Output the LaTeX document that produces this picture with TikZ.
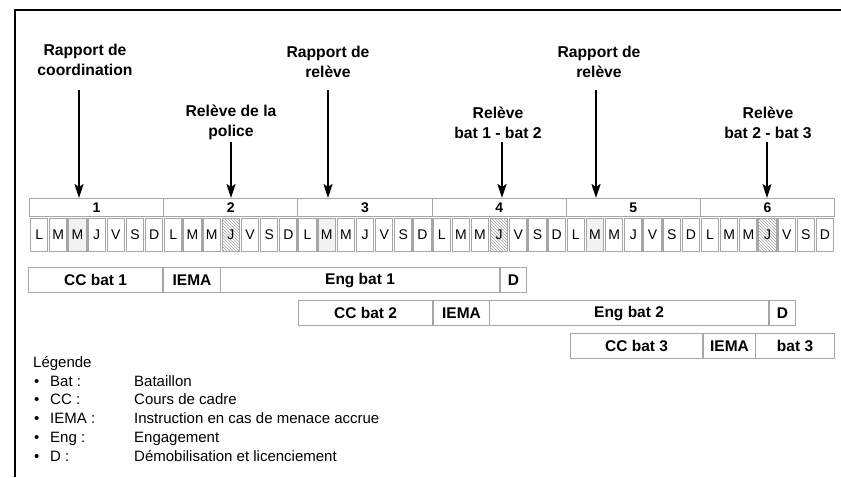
\documentclass[tikz,border=0pt]{standalone}
\usepackage{fontspec}
\setmainfont{Liberation Sans}
\usetikzlibrary{arrows.meta,patterns}
\begin{document}
\begin{tikzpicture}[x=1pt,y=-1pt,
  boxst/.style={draw=gray!70, line width=1.1pt, fill=white, inner sep=0pt, anchor=north west},
  weekbox/.style={boxst, minimum width=134.17pt, minimum height=18pt, font=\fontsize{14}{16}\bfseries\selectfont},
  daybox/.style={boxst, minimum width=17.4pt, minimum height=33pt, font=\fontsize{14}{16}\selectfont},
  barbox/.style={boxst, minimum height=25pt, font=\fontsize{15.5}{18}\bfseries\selectfont},
  toplabel/.style={align=center, inner sep=0pt, font=\fontsize{15.7}{20}\bfseries\selectfont},
  arr/.style={line width=2pt, -{Stealth[length=14pt,width=9pt,inset=3pt]}},
  arrthin/.style={line width=1.2pt, -{Stealth[length=14pt,width=9pt,inset=3pt]}},
  legtxt/.style={anchor=base west, inner sep=0pt, font=\fontsize{15}{18}\selectfont},
  hatch/.style={pattern=north west lines, pattern color=gray!75},
  dotfill/.style={fill=gray!10},
  dd13/.style={hatch}, dd33/.style={hatch}, dd53/.style={hatch},
  dd02/.style={dotfill}, dd21/.style={dotfill}, dd41/.style={dotfill}
]
\useasboundingbox (0,0) rectangle (841,477);
% frame
\coordinate (ftl) at (15,10);
\coordinate (ftr) at (841,10);
\coordinate (fbl) at (15,477);
\draw[line width=1.4pt] (ftr) -- (ftl) -- (fbl);

% weeks
\foreach \w in {1,...,6}
  \node[weekbox] (wk\w) at ({29+(\w-1)*134.17},198) {\w};

% days
\foreach \w in {0,...,5}
  \foreach \d [count=\i from 0] in {L,M,M,J,V,S,D}
    \node[daybox, dd\w\i/.try] (d\w\i) at ({29+\w*134.17+\i*19.17+0.9},218) {\d};

% bars
\newcommand\mybar[5]{\node[barbox, minimum width={(#3)-(#2)}] (#1) at (#2,#4) {#5};}
\mybar{ccA}{28}{162}{267}{CC bat 1}
\mybar{ieA}{163}{220}{267}{IEMA}
\mybar{enA}{220}{499}{267}{Eng bat 1}
\mybar{dA}{500}{526}{267}{D}
\mybar{ccB}{298}{432}{300}{CC bat 2}
\mybar{ieB}{433}{489}{300}{IEMA}
\mybar{enB}{489}{768}{300}{Eng bat 2}
\mybar{dB}{769}{795}{300}{D}
\mybar{ccC}{570}{702}{333}{CC bat 3}
\mybar{ieC}{703}{755}{333}{IEMA}
\mybar{enC}{755}{834}{333}{bat 3}

% top labels
\node[toplabel] (t1) at (85,60) {Rapport de\\coordination};
\node[toplabel] (t2) at (231,122.5) {Relève de la\\police};
\node[toplabel] (t3) at (328,61.5) {Rapport de\\relève};
\node[toplabel] (t4) at (498,122.5) {Relève\\bat 1 - bat 2};
\node[toplabel] (t5) at (599,61.5) {Rapport de\\relève};
\node[toplabel] (t6) at (768,122.5) {Relève\\bat 2 - bat 3};

% arrows
\coordinate (s1) at (79,90);
\coordinate (s2) at (231,142);
\coordinate (s3) at (328,90);
\coordinate (s4) at (502,142);
\coordinate (s5) at (596,90);
\coordinate (s6) at (767,142);
\draw[arr] (s1) -- (s1 |- wk1.north);
\draw[arr] (s2) -- (s2 |- wk2.north);
\draw[arr] (s3) -- (s3 |- wk3.north);
\draw[arr] (s4) -- (s4 |- wk4.north);
\draw[arr] (s5) -- (s5 |- wk5.north);
\draw[arrthin] (s6) -- (s6 |- wk6.north);

% legend
\node[legtxt] (leg) at (33,367) {Légende};
\foreach \k/\v [count=\n from 0] in {Bat :/Bataillon, CC :/Cours de cadre, IEMA :/Instruction en cas de menace accrue, Eng :/Engagement, D :/Démobilisation et licenciement}{
  \node[legtxt] (lb\n) at (34,{386+\n*18.8}) {•};
  \node[legtxt] (lk\n) at (50,{386+\n*18.8}) {\k};
  \node[legtxt] (lv\n) at (134,{386+\n*18.8}) {\v};
}
\end{tikzpicture}
\end{document}
